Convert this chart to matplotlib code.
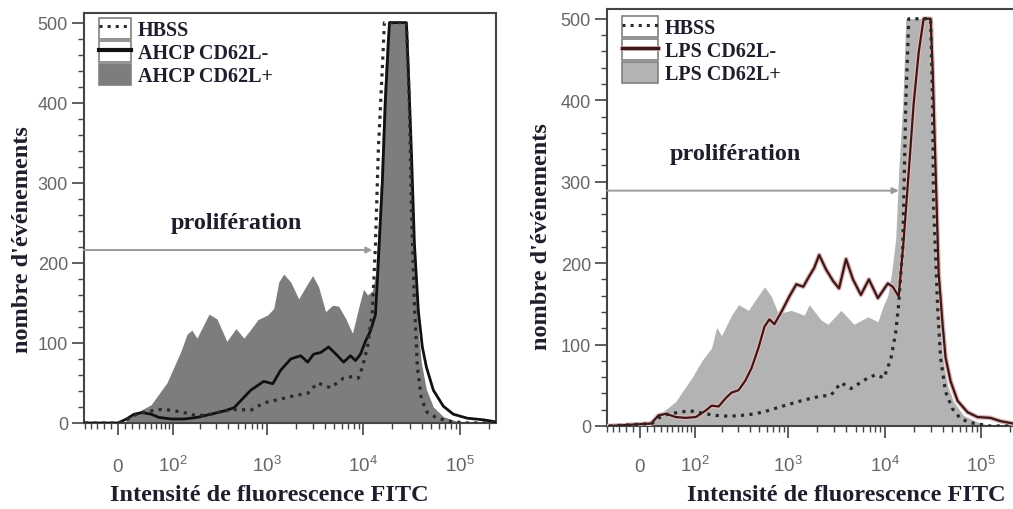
import matplotlib.pyplot as plt
import matplotlib.patheffects as pe
from matplotlib.patches import Patch
from matplotlib.lines import Line2D

# ---------------- panel 1 : AHCP ----------------
ahcp_hbss_x = [-50, 0, 9, 19, 34, 51, 71, 95, 134, 186,
               263, 359, 491, 685, 933, 1398, 2097, 2656, 3367, 4585,
               6244, 7717, 8900, 9782, 11026, 12400, 13317, 14306, 15718, 16498,
               27823, 29870, 31360, 33680, 36175, 39759, 45855, 58130, 79141, 118407, 235000]
ahcp_hbss_y = [0, 0, 2, 8, 13, 15, 17, 16, 13, 9,
               11, 15, 17, 16, 25, 30, 35, 37, 50, 44,
               56, 58, 56, 70, 95, 140, 221, 343, 444, 500,
               500, 400, 270, 150, 70, 30, 13, 6, 2, 0, 0]

ahcp_neg_x = [-50, 0, 12, 23, 35, 51, 66, 95, 134, 186,
              263, 359, 458, 540, 685, 933, 1157, 1398, 1775, 2250,
              2656, 3065, 3616, 4370, 5411, 6244, 7369, 8288, 9341, 10504,
              11841, 13317, 13975, 15718, 16881, 18595, 27823, 29200, 31360, 33680,
              37016, 40687, 44805, 52893, 67048, 85000, 118407, 173130, 219472, 235000]
ahcp_neg_y = [0, 0, 5, 11, 13, 11, 7, 5, 5, 7,
              11, 15, 19, 28, 41, 52, 49, 66, 80, 84,
              76, 86, 88, 95, 84, 76, 84, 78, 86, 102,
              115, 135, 179, 301, 403, 500, 500, 440, 340, 225,
              140, 95, 70, 41, 21, 11, 6, 4, 2, 1]

ahcp_pos_x = [-50, 0, 9, 14, 23, 51, 84, 124, 145, 164,
              186, 251, 304, 386, 480, 580, 685, 811, 1026, 1183,
              1334, 1502, 1775, 2146, 2532, 2990, 3448, 4069, 4802, 5536,
              6537, 7717, 8900, 10031, 11026, 12400, 13317, 14306, 15010, 16121,
              17313, 18171, 28536, 29870, 32091, 34467, 37016, 39759, 44805, 52893,
              67048, 93409, 127165, 235000]
ahcp_pos_y = [0, 0, 1, 5, 11, 23, 50, 90, 111, 116,
              106, 136, 130, 102, 118, 106, 117, 129, 135, 143,
              176, 186, 176, 155, 170, 184, 170, 139, 147, 146,
              131, 112, 143, 167, 160, 165, 185, 250, 301, 403,
              480, 500, 500, 420, 300, 190, 115, 75, 42, 20,
              8, 2, 0, 0]

# ---------------- panel 2 : LPS ----------------
lps_hbss_x = [-46, 17, 27, 44, 68, 84, 134, 173, 238, 327,
              457, 623, 912, 1365, 2043, 2782, 3526, 4480, 6705, 8100,
              9805, 11568, 13012, 13975, 15396, 16536, 17760, 29870, 31360, 32091,
              35351, 37874, 42697, 50402, 61016, 77343, 124265, 320000]
lps_hbss_y = [0, 3, 10, 15, 17, 19, 15, 13, 12, 13,
              15, 19, 25, 31, 36, 38, 53, 46, 59, 63,
              59, 82, 115, 150, 220, 396, 500, 500, 396, 271,
              146, 84, 42, 21, 9, 4, 0, 0]

lps_neg_x = [-46, 16, 27, 39, 56, 77, 103, 134, 156, 186,
             221, 256, 304, 359, 415, 491, 567, 638, 719, 849,
             1028, 1214, 1433, 1653, 1859, 2095, 2474, 2920, 3367, 3976,
             4692, 5667, 6861, 8500, 10774, 12116, 13975, 15756, 17760, 19969,
             22510, 25317, 29870, 31360, 33680, 36175, 39759, 42697, 48128, 56805,
             72007, 91292, 124265, 157557, 214484, 320000]
lps_neg_y = [0, 3, 13, 15, 11, 10, 11, 19, 25, 24,
             34, 41, 44, 56, 71, 96, 122, 131, 125, 140,
             159, 174, 171, 184, 194, 210, 192, 178, 169, 205,
             180, 161, 180, 157, 175, 171, 159, 230, 313, 396,
             459, 500, 500, 438, 313, 188, 125, 84, 55, 31,
             17, 11, 10, 6, 3, 2]

lps_pos_x = [-46, 16, 27, 56, 92, 121, 156, 177, 200, 256,
             304, 386, 457, 567, 669, 790, 1077, 1466, 1653, 2194,
             2590, 3526, 4802, 6705, 8500, 9558, 10774, 11841, 13012, 13975,
             15396, 16536, 31360, 32091, 33680, 36175, 39759, 44805, 51678, 65511,
             91292, 124265, 320000]
lps_pos_y = [0, 0, 13, 30, 59, 80, 96, 121, 111, 136,
             149, 142, 155, 171, 159, 138, 142, 136, 149, 130,
             125, 142, 125, 134, 128, 146, 160, 190, 230, 313,
             396, 500, 500, 396, 271, 146, 84, 50, 30, 13,
             5, 0, 0]

x_ticks = [0, 1e2, 1e3, 1e4, 1e5]
x_tick_labels = ['0', '$10^2$', '$10^3$', '$10^4$', '$10^5$']
x_minor = ([-50, -40, -30, -20, -10] + list(range(10, 100, 10))
           + [m * 10 ** e for e in (2, 3, 4) for m in range(2, 10)] + [200000])
y_ticks = [0, 100, 200, 300, 400, 500]

# proliferation arrows (y level, end point) and text positions
arrow1_y, arrow1_end = 216, 12400
arrow2_y, arrow2_end = 289, 13975
text1_xy = (480, 251)
text2_xy = (282, 334)

plt.rcParams['font.family'] = ['Liberation Sans', 'DejaVu Sans']
plt.rcParams['mathtext.default'] = 'regular'

serif = dict(family='Liberation Serif', weight='bold', color='#1e1e2c')
dark = '#444444'

fig = plt.figure(figsize=(10.13, 5.10), dpi=100)
ax1 = fig.add_axes([84 / 1013, 1 - 424 / 510, (496 - 84) / 1013, (424 - 14) / 510])
ax2 = fig.add_axes([607 / 1013, 1 - 427 / 510, (1030 - 607) / 1013, (427 - 10) / 510])


def style(ax, xlim, xpad):
    ax.set_xscale('asinh', linear_width=58)
    ax.set_xlim(*xlim)
    ax.set_ylim(0, 512)
    ax.set_xticks(x_ticks, labels=x_tick_labels)
    ax.set_xticks(x_minor, minor=True)
    ax.set_yticks(y_ticks)
    ax.set_yticks(range(0, 512, 20), minor=True)
    for s in ax.spines.values():
        s.set_color(dark)
        s.set_linewidth(1.5)
    ax.tick_params(which='major', direction='out', length=8.5, width=1.2, color=dark,
                   labelsize=13, labelcolor='#666666')
    ax.tick_params(which='minor', direction='out', length=4.5, width=1.0, color=dark)
    ax.tick_params(axis='x', which='major', pad=xpad, labelsize=13.5)
    ax.tick_params(axis='y', which='major', pad=3)
    for lab in ax.get_xticklabels():
        lab.set_verticalalignment('baseline')


style(ax1, (-52, 235000), 26)
style(ax2, (-46, 320000), 24)

# panel 1
ax1.fill_between(ahcp_pos_x, ahcp_pos_y, color='#7d7d7d', lw=0, zorder=1)
ax1.plot(ahcp_neg_x, ahcp_neg_y, color='#111111', lw=2.0, zorder=3)
ax1.plot(ahcp_hbss_x, ahcp_hbss_y, color='#2a2a2a', lw=2.3, ls=':', zorder=4)

# panel 2
neg_pe = [pe.Stroke(linewidth=3.4, foreground='#dcb8b8'), pe.Normal()]
ax2.fill_between(lps_pos_x, lps_pos_y, color='#b3b3b3', lw=0, zorder=1)
ax2.plot(lps_neg_x, lps_neg_y, color='#3d1616', lw=1.6, zorder=3, path_effects=neg_pe)
ax2.plot(lps_hbss_x, lps_hbss_y, color='#2a2a2a', lw=2.3, ls=':', zorder=4)

for ax, y, xend, txy in [(ax1, arrow1_y, arrow1_end, text1_xy),
                         (ax2, arrow2_y, arrow2_end, text2_xy)]:
    ax.annotate('', xy=(xend, y), xytext=(ax.get_xlim()[0], y),
                arrowprops=dict(arrowstyle='-|>', color='#9a9a9a', lw=1.4,
                                mutation_scale=9, shrinkA=0, shrinkB=0), zorder=5)
    ax.text(txy[0], txy[1], 'prolifération', ha='center', va='center', fontsize=17.5, **serif)
    ax.set_xlabel('Intensité de fluorescence FITC', fontsize=17.5, **serif)
    ax.set_ylabel("nombre d'événements", fontsize=17.5, **serif)

ax1.xaxis.set_label_coords(0.45, -0.149)
ax1.yaxis.set_label_coords(-0.124, 0.45)
ax2.xaxis.set_label_coords(0.565, -0.139)
ax2.yaxis.set_label_coords(-0.130, 0.456)

box = dict(fc='white', ec='#808080', lw=1.2)
leg_font = dict(family='Liberation Serif', weight='bold', size=14.5)
h1 = [(Patch(**box), Line2D([], [], color='#2a2a2a', ls=':', lw=2.2)),
      (Patch(**box), Line2D([], [], color='#111111', lw=3)),
      Patch(fc='#7d7d7d', ec='#808080', lw=1.2)]
ax1.legend(h1, ['HBSS', 'AHCP CD62L-', 'AHCP CD62L+'], loc='upper left',
           bbox_to_anchor=(0.036, 0.988), frameon=False, prop=leg_font,
           labelcolor='#1e1e2c', handlelength=1.6, handleheight=1.2,
           labelspacing=0.05, handletextpad=0.35, borderpad=0, borderaxespad=0)
h2 = [(Patch(**box), Line2D([], [], color='#2a2a2a', ls=':', lw=2.2)),
      (Patch(**box), Line2D([], [], color='#3d1616', lw=2.4, path_effects=neg_pe)),
      Patch(fc='#b3b3b3', ec='#808080', lw=1.2)]
ax2.legend(h2, ['HBSS', 'LPS CD62L-', 'LPS CD62L+'], loc='upper left',
           bbox_to_anchor=(0.035, 0.983), frameon=False, prop=leg_font,
           labelcolor='#1e1e2c', handlelength=1.8, handleheight=1.2,
           labelspacing=0.05, handletextpad=0.35, borderpad=0, borderaxespad=0)

fig.savefig('out.png', dpi=100)
